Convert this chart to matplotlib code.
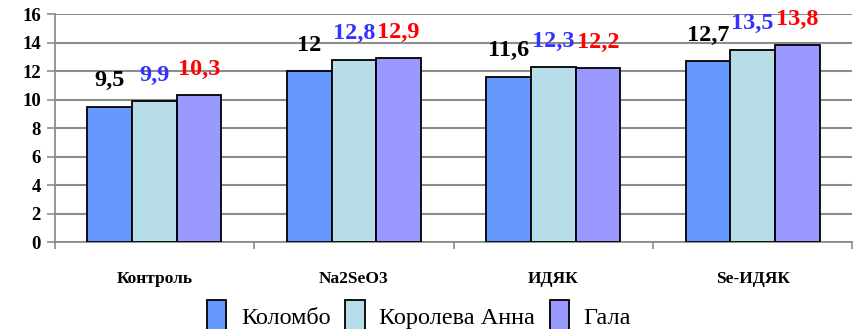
import numpy as np
import matplotlib
matplotlib.use("Agg")
import matplotlib.pyplot as plt

# Data
categories = ["Контроль", "Na2SeO3", "ИДЯК", "Se-ИДЯК"]
series_names = ["Коломбо", "Королева Анна", "Гала"]
kolombo = [9.5, 12, 11.6, 12.7]
koroleva_anna = [9.9, 12.8, 12.3, 13.5]
gala = [10.3, 12.9, 12.2, 13.8]
y_ticks = [0, 2, 4, 6, 8, 10, 12, 14, 16]

bar_colors = ["#6699FF", "#B7DEE8", "#9999FF"]
label_colors = ["#000000", "#3333FF", "#FF0000"]

plt.rcParams["font.family"] = ["Liberation Serif", "DejaVu Serif"]

fig = plt.figure(figsize=(8.55, 3.29), dpi=100)
ax = fig.add_axes([0.064, 0.2644, 0.933, 0.693])

x = np.arange(len(categories))
width = 0.224
grey = "#8C8C8C"

for i, (vals, name) in enumerate(zip([kolombo, koroleva_anna, gala], series_names)):
    bars = ax.bar(x + (i - 1) * width, vals, width, color=bar_colors[i],
                  edgecolor="black", linewidth=1.3, label=name, zorder=3)
    ax.bar_label(bars, labels=[f"{v:g}".replace(".", ",") for v in vals],
                 padding=11, fontsize=17.5, fontweight="bold",
                 color=label_colors[i], zorder=4)

ax.set_xlim(-0.5, len(categories) - 0.5)
ax.set_ylim(0, 16)
ax.set_yticks(y_ticks)
ax.set_yticklabels([str(t) for t in y_ticks], fontsize=13.5, fontweight="bold")
ax.yaxis.grid(True, color=grey, linewidth=1.5, zorder=0)

ax.set_xticks(x)
ax.set_xticklabels(categories, fontsize=12.5, fontweight="bold")
ax.set_xticks(np.arange(-0.5, len(categories), 1.0), minor=True)
ax.tick_params(axis="x", which="major", length=0, pad=21)
ax.tick_params(axis="x", which="minor", length=5, color=grey, width=1.2)
ax.tick_params(axis="y", length=6, color=grey, width=1.2, pad=4)

for side in ["top", "right"]:
    ax.spines[side].set_visible(False)
for side in ["left", "bottom"]:
    ax.spines[side].set_color(grey)
    ax.spines[side].set_linewidth(1.3)

fig.legend(loc="center", bbox_to_anchor=(0.49, 0.04), ncol=3, frameon=False,
           prop={"family": "Liberation Serif", "size": 17.5},
           handlelength=0.8, handleheight=1.6, handletextpad=0.6,
           columnspacing=0.6, borderaxespad=0)

fig.savefig("out.png", dpi=100)
